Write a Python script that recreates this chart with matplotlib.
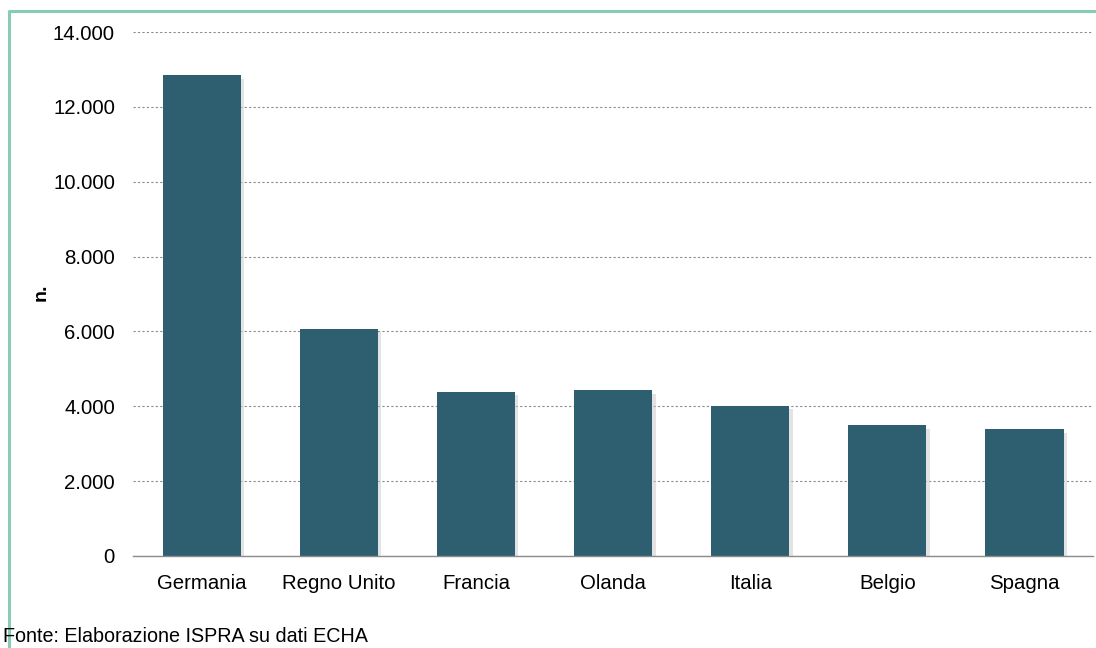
import matplotlib.pyplot as plt
import matplotlib.patheffects as pe
from matplotlib.lines import Line2D
from matplotlib.ticker import FuncFormatter

# data
paesi = ["Germania", "Regno Unito", "Francia", "Olanda", "Italia", "Belgio", "Spagna"]
valori = [12850, 6065, 4385, 4430, 4015, 3495, 3385]
yticks = [0, 2000, 4000, 6000, 8000, 10000, 12000, 14000]

plt.rcParams['font.family'] = ['Liberation Sans', 'DejaVu Sans']

fig = plt.figure(figsize=(10.96, 6.48), dpi=100)
ax = fig.add_axes([0.1214, 0.142, 0.8759, 0.8086])

bars = ax.bar(range(len(paesi)), valori, width=0.57, color='#2E5F71', zorder=3)
for b in bars:
    b.set_path_effects([pe.SimplePatchShadow(offset=(2.5, -2.5), shadow_rgbFace='#c8c8c8', alpha=0.5),
                        pe.Normal()])

ax.set_xlim(-0.5, len(paesi) - 0.5)
ax.set_ylim(0, 14000)
ax.set_yticks(yticks)
ax.yaxis.set_major_formatter(FuncFormatter(lambda v, p: f"{int(v):,}".replace(",", ".")))
ax.set_xticks(range(len(paesi)))
ax.set_xticklabels(paesi)
ax.tick_params(length=0, labelsize=14.7, colors='black')
ax.tick_params(axis='y', pad=13)
ax.tick_params(axis='x', pad=13)

ax.grid(axis='y', linestyle=(0, (2, 2)), color='#8a8a8a', linewidth=0.8, zorder=0)
for s in ['top', 'right', 'left']:
    ax.spines[s].set_visible(False)
ax.spines['bottom'].set_color('#8c8c8c')
ax.spines['bottom'].set_linewidth(1.0)
ax.spines['bottom'].set_zorder(4)

fig.text(41 / 1096, 1 - 292 / 648, "n.", rotation=90, fontsize=14, fontweight='bold',
         ha='center', va='center')

fig.text(3 / 1096, 1 - 636 / 648, "Fonte: Elaborazione ISPRA su dati ECHA", fontsize=14.2,
         family=['Liberation Sans Narrow', 'Liberation Sans', 'DejaVu Sans'],
         ha='left', va='center')

# light green frame (top and left)
fig.add_artist(Line2D([8.5 / 1096, 8.5 / 1096, 1.0], [0.0, 1 - 10.5 / 648, 1 - 10.5 / 648],
                      transform=fig.transFigure, color='#88CCB4', linewidth=2.2))

fig.savefig("out.png", dpi=100)
